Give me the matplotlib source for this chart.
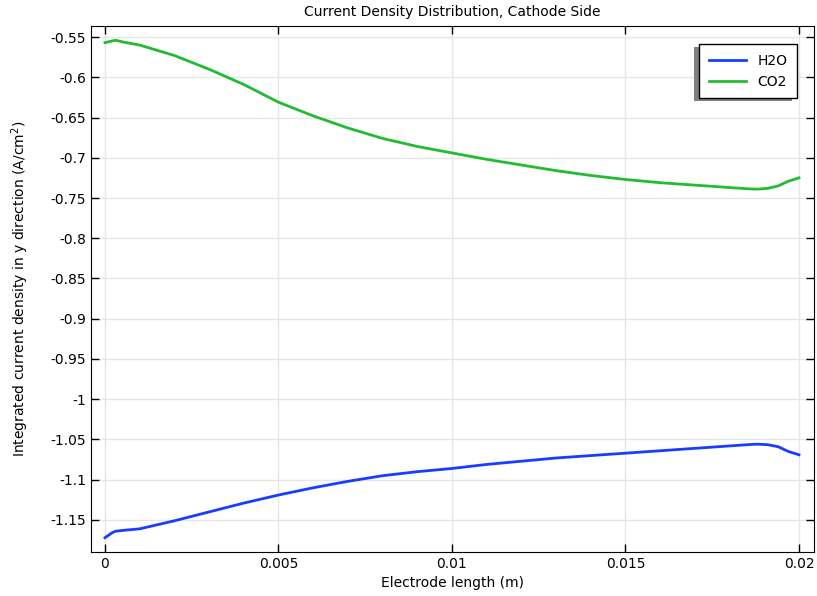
import numpy as np
import matplotlib
matplotlib.use('Agg')
import matplotlib.pyplot as plt
from matplotlib.ticker import FuncFormatter
from matplotlib.patches import Rectangle

plt.rcParams['font.family'] = 'DejaVu Sans'
plt.rcParams['axes.unicode_minus'] = False

# electrode length (m)
x_h2o = [0, 0.0001, 0.0002, 0.0003, 0.0005, 0.001, 0.002, 0.003, 0.004, 0.005, 0.006,
         0.007, 0.008, 0.009, 0.010, 0.011, 0.012, 0.013, 0.014, 0.015, 0.016,
         0.017, 0.018, 0.0185, 0.0188, 0.0191, 0.0194, 0.0197, 0.020]
h2o = [-1.172, -1.169, -1.166, -1.164, -1.163, -1.161, -1.151, -1.140, -1.129, -1.119, -1.110,
       -1.102, -1.095, -1.090, -1.086, -1.081, -1.077, -1.073, -1.070, -1.067, -1.064,
       -1.061, -1.058, -1.0565, -1.0558, -1.0565, -1.059, -1.065, -1.069]

x_co2 = [0, 0.0001, 0.0003, 0.0005, 0.001, 0.002, 0.003, 0.004, 0.005, 0.006,
         0.007, 0.008, 0.009, 0.010, 0.011, 0.012, 0.013, 0.014, 0.015, 0.016,
         0.017, 0.018, 0.0185, 0.0188, 0.0191, 0.0194, 0.0197, 0.020]
co2 = [-0.557, -0.556, -0.554, -0.556, -0.560, -0.573, -0.590, -0.609, -0.631, -0.648,
       -0.663, -0.676, -0.686, -0.694, -0.702, -0.709, -0.716, -0.722, -0.727, -0.731,
       -0.734, -0.737, -0.7385, -0.739, -0.738, -0.735, -0.729, -0.725]

xticks = [0, 0.005, 0.01, 0.015, 0.02]
yticks = [-0.55, -0.6, -0.65, -0.7, -0.75, -0.8, -0.85, -0.9, -0.95, -1,
          -1.05, -1.1, -1.15]

fig = plt.figure(figsize=(8.17, 5.96), dpi=100)
ax = fig.add_axes([0.1114, 0.0738, 0.8849, 0.8826])

ax.plot(x_h2o, h2o, color='#1a3cff', lw=2, label='H2O')
ax.plot(x_co2, co2, color='#22bb33', lw=2, label='CO2')

ax.set_xlim(-0.000403, 0.020432)
ax.set_ylim(-1.1898, -0.5363)
ax.set_xticks(xticks)
ax.set_yticks(yticks)
ax.xaxis.set_major_formatter(FuncFormatter(lambda v, p: '%g' % v))
ax.yaxis.set_major_formatter(FuncFormatter(lambda v, p: '%g' % v))
ax.tick_params(direction='in', top=True, right=True, length=6, width=1, labelsize=10)
ax.grid(True, color='#e6e6e6', lw=1)
ax.set_axisbelow(True)

ax.set_title('Current Density Distribution, Cathode Side', fontsize=10, pad=7)
ax.set_xlabel('Electrode length (m)', fontsize=10, labelpad=4)
ax.set_ylabel(r'Integrated current density in y direction (A/cm$^2$)', fontsize=10)
ax.yaxis.set_label_coords(-0.0835, 0.5)

leg = ax.legend(loc='upper right', bbox_to_anchor=(0.9765, 0.9658), borderaxespad=0,
                fancybox=False, shadow=False, framealpha=1, edgecolor='black',
                fontsize=10, handlelength=2.7, borderpad=0.7)
leg.get_frame().set_linewidth(1)

# gray drop shadow behind the legend, offset down and to the left
fig.canvas.draw()
bb = leg.get_window_extent()
shadow = Rectangle((bb.x0 - 5, bb.y0 - 3), bb.width, bb.height, transform=None,
                   facecolor='#808080', edgecolor='none', zorder=4.9)
ax.add_artist(shadow)

fig.savefig('out.png', dpi=100)
